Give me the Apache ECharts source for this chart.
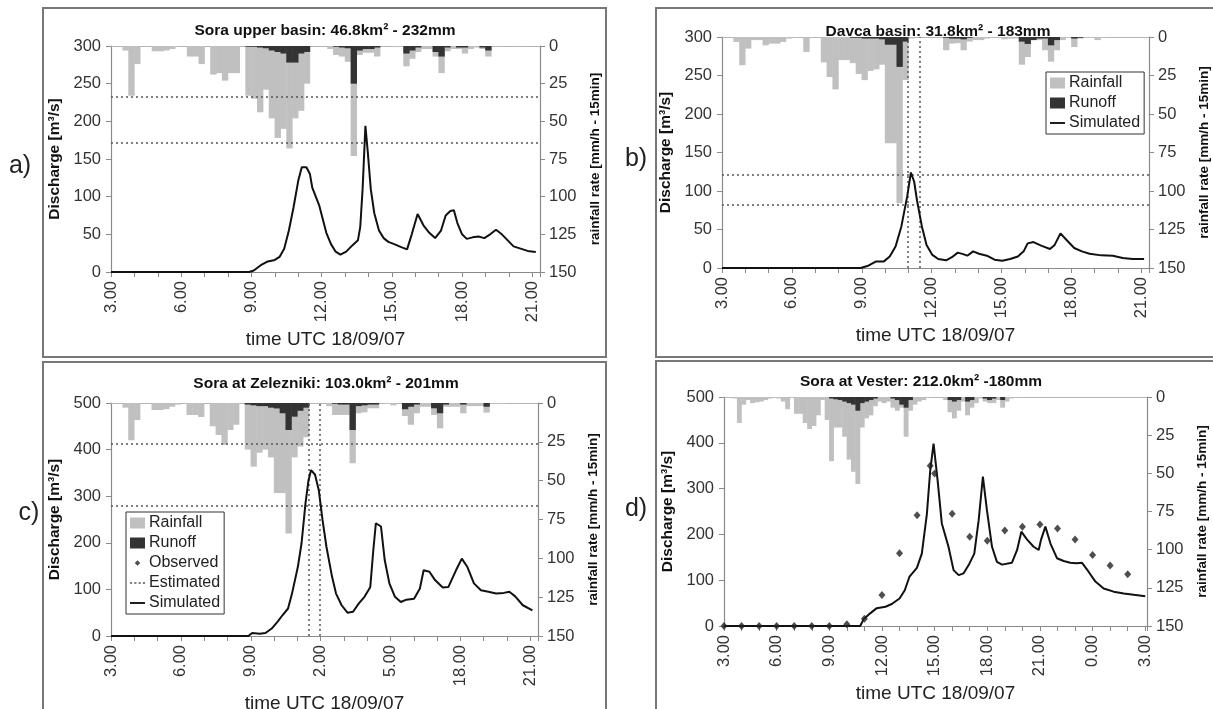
<!DOCTYPE html>
<html>
<head>
<meta charset="utf-8">
<title>Sora basins - discharge and rainfall 18/09/07</title>
<script src="https://cdn.jsdelivr.net/npm/echarts@6/dist/echarts.min.js"></script>
<style>
  html, body { margin: 0; padding: 0; background: #fff; }
  #chart { width: 1213px; height: 709px; }
</style>
</head>
<body>
<div id="chart"></div>
<script>
// rainfall / runoff are 15-min blocks starting at 3.00 (mm/h)
const T0 = 3;
const STEP = 0.25;

// x tick labels (every 3 h)
const tickHoursABC = [3, 6, 9, 12, 15, 18, 21];
const tickLabelsA = ['3.00', '6.00', '9.00', '12.00', '15.00', '18.00', '21.00'];
const tickLabelsB = ['3.00', '6.00', '9.00', '12.00', '15.00', '18.00', '21.00'];
const tickLabelsC = ['3.00', '6.00', '9.00', '2.00', '5.00', '18.00', '21.00'];
const tickHoursD = [3, 6, 9, 12, 15, 18, 21, 24, 27];
const tickLabelsD = ['3.00', '6.00', '9.00', '12.00', '15.00', '18.00', '21.00', '0.00', '3.00'];

// a) Sora upper basin
const rainA = [
  0, 0, 3, 33, 12, 0, 0, 3.5, 3.5, 3, 2, 0.5,
  0, 7, 7, 12, 0, 19, 18, 23, 18, 18, 0, 33,
  35, 44, 29, 48, 61, 55, 68, 48, 43, 25, 0, 0,
  0, 2, 6, 7, 10.5, 73, 6, 4.5, 4.5, 7, 0, 0,
  0.7, 0, 13.5, 8.5, 4, 2, 2, 7, 18, 3.5, 2, 2,
  5, 2, 1, 2, 7, 0.5, 0.3, 0, 0, 0.3, 0, 0
];
const runoffA = [
  0, 0, 0, 0, 0, 0, 0, 0, 0, 0, 0, 0,
  0, 0, 0, 0, 0, 0, 0, 0, 0, 0, 0, 0.5,
  0.5, 1, 1.5, 3, 4, 5, 11, 11, 5, 4, 0, 0,
  0, 0, 0.5, 1, 1.5, 25, 3, 2, 2, 1, 0, 0,
  0, 0, 5, 3, 1, 0, 0, 4, 7, 1, 0, 1,
  1, 0, 0, 1, 3, 0, 0, 0, 0, 0, 0, 0
];
const simTimeA = [3, 8.9, 9.1, 9.4, 9.7, 10.0, 10.2, 10.4, 10.6, 10.8, 11.0, 11.15, 11.35, 11.5, 11.6, 11.75,
  11.9, 12.05, 12.2, 12.4, 12.6, 12.8, 13.05, 13.3, 13.55, 13.65, 13.75, 13.87, 13.97, 14.1, 14.25, 14.45,
  14.65, 14.85, 15.1, 15.4, 15.65, 15.85, 16.1, 16.35, 16.6, 16.85, 17.1, 17.3, 17.5, 17.65, 17.8, 18.0,
  18.2, 18.45, 18.7, 18.95, 19.2, 19.45, 19.7, 19.95, 20.2, 20.5, 20.8, 21.15];
const simA = [0, 0, 2, 9, 14, 16, 20, 31, 55, 86, 121, 139, 139, 130, 112, 100,
  88, 70, 52, 37, 27, 23, 27, 35, 42, 60, 110, 194, 160, 110, 78, 55,
  45, 40, 37, 33, 30, 50, 77, 62, 52, 45, 55, 75, 81, 82, 65, 50,
  44, 46, 47, 45, 50, 56, 50, 42, 34, 31, 28, 26.5];
const estQA = [233, 171];
const estTA = [];

// b) Davca basin
const rainB = [
  0, 0, 3.2, 18.3, 7.5, 2, 2, 5.4, 4.3, 4.3, 3.2, 1,
  0.5, 0, 9.7, 0, 0, 16.5, 26, 34, 15, 15, 17, 24,
  28, 22, 21, 18, 69, 69, 108, 28, 1, 0, 0, 0,
  0, 0, 8.6, 4.3, 4, 8.6, 3, 2, 2, 1, 0.5, 0.5,
  1.5, 1, 1, 18, 13, 2, 2, 8.6, 16, 8.6, 2, 0.5,
  6.5, 1, 0.5, 0.5, 2, 0.5, 0, 0, 0, 0, 0, 0
];
const runoffB = [
  0, 0, 0, 0, 0, 0, 0, 0, 0, 0, 0, 0,
  0, 0, 0, 0, 0, 0, 0, 0, 0, 0, 0.5, 0.5,
  1, 1, 1, 1.5, 5, 5, 19.4, 3, 0, 0, 0, 0,
  0, 0, 0.5, 1, 1, 1.5, 0.5, 0, 0, 0, 0, 0,
  0, 0, 0, 3, 4.5, 2, 1, 1, 5.4, 2, 0, 0,
  1, 0.5, 0, 0, 0, 0, 0, 0, 0, 0, 0, 0
];
const simTimeB = [3, 8.95, 9.28, 9.62, 9.95, 10.2, 10.45, 10.7, 10.95, 11.11, 11.25, 11.37, 11.58, 11.78, 12.03,
  12.28, 12.62, 12.87, 13.12, 13.35, 13.53, 13.78, 14.03, 14.37, 14.7, 15.03, 15.37, 15.7, 15.95, 16.12,
  16.37, 16.7, 17.08, 17.28, 17.53, 17.78, 18.12, 18.45, 18.78, 19.28, 19.78, 20.2, 20.62, 21.12];
const simB = [0, 0, 3, 8.6, 8.6, 15, 28, 54, 93, 124, 112, 88, 54, 30, 17,
  11.7, 10, 14, 20, 18, 16, 21.6, 18.5, 16, 10.8, 9.5, 11.7, 15, 21.6, 32,
  33.7, 29, 24.6, 30, 45, 36.7, 26, 21.6, 18.5, 16.4, 16, 13, 11.7, 11.7];
const estQB = [121, 82];
const estTB = [10.97, 11.47];

// c) Sora at Zelezniki
const rainC = [
  0, 0, 3, 24, 11, 0, 0, 4.5, 4.5, 4, 2.4, 1,
  0, 7.7, 7.7, 9, 0, 15, 20.6, 27, 17.4, 14, 0, 30,
  41, 32, 30, 35, 58, 58, 84, 35, 28, 22, 0, 0,
  0, 2, 7.7, 7.7, 7.7, 38.8, 6.6, 6, 3.4, 3.4, 0, 0.5,
  1.5, 0, 8.4, 14, 6.6, 2.4, 2.4, 7.7, 16.3, 2.4, 2.4, 2.4,
  6.6, 2, 2, 2, 6.2, 0.7, 0.5, 0.5, 0, 0.3, 0, 0
];
const runoffC = [
  0, 0, 0, 0, 0, 0, 0, 0, 0, 0, 0, 0,
  0, 0, 0, 0, 0, 0, 0, 0, 0, 0, 0, 1,
  1.5, 2, 2, 3, 3.5, 6.6, 17.4, 8.8, 5, 3, 0, 0,
  0, 0, 0.5, 1, 1, 17.4, 2, 1.5, 1, 1, 0, 0,
  0, 0, 4, 2.4, 1, 0, 0, 3.4, 6.6, 1, 0, 0,
  1, 0, 0, 0, 2.4, 0, 0, 0, 0, 0, 0, 0
];
const simTimeC = [3, 8.9, 9.06, 9.38, 9.63, 9.9, 10.17, 10.36, 10.6, 10.77, 11.02, 11.18, 11.35, 11.48, 11.59,
  11.76, 11.92, 12.08, 12.25, 12.49, 12.66, 12.9, 13.15, 13.39, 13.64, 13.88, 14.05, 14.13, 14.26, 14.37,
  14.59, 14.75, 14.95, 15.19, 15.44, 15.68, 16.01, 16.26, 16.42, 16.67, 16.91, 17.24, 17.48, 17.81, 18.06,
  18.3, 18.58, 18.88, 19.2, 19.53, 19.86, 20.1, 20.35, 20.68, 21.09];
const simC = [0, 0, 6.5, 5, 6.5, 16, 32, 44.5, 59, 91, 148, 199, 285, 335, 356,
  346, 313, 249, 191, 127, 91, 66, 50, 52, 70, 84, 98, 105, 184, 242,
  235, 163, 113, 84, 73, 78, 80, 102, 141, 138, 120, 104, 105, 141, 166,
  148, 113, 98, 95, 91, 92.5, 95, 85, 66, 55];
const estQC = [412, 280];
const estTC = [11.5, 11.95];

// d) Sora at Vester
const rainD = [
  0, 0, 1, 17, 5, 2, 4, 3.5, 3, 2, 1, 0.5,
  1, 3, 8, 0.5, 11, 11, 17, 21, 19, 12, 2, 15,
  42, 20, 20, 26, 41, 49, 57, 20, 14, 12, 6, 3,
  4, 3, 7, 9, 7, 26, 9, 5, 3, 2, 0.5, 0,
  0, 0, 2, 10, 14, 9, 3, 12, 7, 4, 1, 3,
  4, 4, 2, 7, 3, 1, 0.5, 0, 0, 0, 0, 0,
  0, 0, 0, 0, 0, 0, 0, 0, 0, 0, 0, 0,
  0, 0, 0, 0, 0, 0, 0, 0, 0, 0, 0, 0
];
const runoffD = [
  0, 0, 0, 0, 0, 0, 0, 0, 0, 0, 0, 0,
  0, 0, 0, 0, 0, 0, 0, 0, 0, 0, 0, 0,
  1, 1.5, 2, 3, 4, 5, 9, 4, 3, 2, 1, 0,
  0, 0, 1, 2, 5, 7, 2, 0, 0, 0, 0, 0,
  0, 0, 0, 2, 3, 2, 0, 3, 2, 0, 0, 1,
  2, 1, 0, 2, 0, 0, 0, 0, 0, 0, 0, 0,
  0, 0, 0, 0, 0, 0, 0, 0, 0, 0, 0, 0,
  0, 0, 0, 0, 0, 0, 0, 0, 0, 0, 0, 0
];
const simTimeD = [3, 10.76, 10.95, 11.33, 11.7, 12.2, 12.56, 13.0, 13.3, 13.57, 13.99, 14.27, 14.56, 14.75, 14.94,
  15.17, 15.41, 15.79, 16.08, 16.37, 16.65, 16.94, 17.26, 17.51, 17.75, 17.98, 18.27, 18.55, 18.84, 19.4,
  19.7, 19.94, 20.26, 20.64, 20.93, 21.06, 21.31, 21.6, 21.97, 22.35, 22.73, 23.1, 23.4, 23.78, 24.16,
  24.63, 25.2, 25.78, 26.35, 27.0];
const simD = [0, 0, 14.5, 27.6, 39, 42, 48, 60, 78, 108, 127, 158, 245, 340, 398,
  318, 224, 173, 122, 111, 115, 133, 158, 231, 326, 253, 173, 140, 134, 138,
  166, 206, 189, 173, 166, 188, 217, 180, 148, 142, 138, 137, 138, 118, 97,
  82, 75, 71, 68, 65];
const obsTimeD = [3, 4, 5, 6, 7, 8, 9, 10, 11, 12, 13, 14, 14.75, 15, 16, 17, 18, 19, 20, 21, 22, 23, 24, 25, 26];
const obsD = [0, 0, 0, 0, 0, 0, 0, 3.6, 16, 67.6, 159, 242, 350, 333, 245, 195, 186, 208.6, 216.6, 221.7, 213, 189, 155, 132, 113];
const estQD = [];
const estTD = [];

const FONT = '"Liberation Sans", Arial, sans-serif';
const RAIN_COLOR = '#c0c0c0';
const RUNOFF_COLOR = '#333333';
const LINE_COLOR = '#111111';
const EST_COLOR = '#555555';
const AXIS_COLOR = '#8a8a8a';

// legend icons for the line-like entries (no symbol in the middle)
const ICON_SOLID = 'path://M0,0h16v2h-16z';
const ICON_DOTTED = 'path://M0,0h2v1.6h-2zM4,0h2v1.6h-2zM8,0h2v1.6h-2zM12,0h2v1.6h-2z';
const ICON_DIAMOND = 'path://M0,0M14,12M7,3L10,6L7,9L4,6Z';

const panels = [
  { grid: { left: 111, top: 46, width: 429, height: 226 }, xMax: 21.33, qMax: 300, qStep: 50,
    rain: rainA, runoff: runoffA, simT: simTimeA, sim: simA, estQ: estQA, estT: estTA,
    ticks: tickHoursABC, labels: tickLabelsA },
  { grid: { left: 722, top: 37, width: 427, height: 231 }, xMax: 21.33, qMax: 300, qStep: 50,
    rain: rainB, runoff: runoffB, simT: simTimeB, sim: simB, estQ: estQB, estT: estTB,
    ticks: tickHoursABC, labels: tickLabelsB },
  { grid: { left: 111, top: 403, width: 427, height: 233 }, xMax: 21.33, qMax: 500, qStep: 100,
    rain: rainC, runoff: runoffC, simT: simTimeC, sim: simC, estQ: estQC, estT: estTC,
    ticks: tickHoursABC, labels: tickLabelsC, legendObserved: true },
  { grid: { left: 724, top: 397, width: 423, height: 229 }, xMax: 27.1, qMax: 500, qStep: 100,
    rain: rainD, runoff: runoffD, simT: simTimeD, sim: simD, estQ: estQD, estT: estTD,
    ticks: tickHoursD, labels: tickLabelsD, obsT: obsTimeD, obs: obsD }
];

const grids = [];
const xAxes = [];
const yAxes = [];
const series = [];

panels.forEach((cfg, p) => {
  const xb = 2 * p;
  const yl = 2 * p;
  const yr = 2 * p + 1;
  const barW = cfg.grid.width / (cfg.xMax - T0) * STEP + 0.5;

  grids.push(Object.assign({ outerBoundsMode: 'none', containLabel: false }, cfg.grid));

  // bottom time axis
  xAxes.push({
    gridIndex: p, type: 'value', min: T0, max: cfg.xMax, interval: 1,
    axisLine: { show: true, onZero: false, lineStyle: { color: AXIS_COLOR, width: 1.2 } },
    axisTick: { show: true, length: 5, lineStyle: { color: AXIS_COLOR } },
    splitLine: { show: false },
    axisLabel: {
      rotate: 90, fontSize: 16.5, color: '#333', margin: 9, hideOverlap: false,
      showMinLabel: true, showMaxLabel: true,
      formatter: (v) => {
        const k = cfg.ticks.findIndex((h) => Math.abs(h - v) < 1e-6);
        return k < 0 ? '' : cfg.labels[k];
      }
    },
    name: 'time UTC 18/09/07', nameLocation: 'middle', nameGap: 58, nameMoveOverlap: false,
    nameTextStyle: { fontSize: 19, color: '#222' }
  });
  // top border of the plot (where the rain hangs from)
  xAxes.push({
    gridIndex: p, type: 'value', position: 'top', min: T0, max: cfg.xMax,
    axisLine: { show: true, onZero: false, lineStyle: { color: '#b5b5b5' } },
    axisTick: { show: false }, axisLabel: { show: false }, splitLine: { show: false }
  });

  yAxes.push({
    gridIndex: p, type: 'value', position: 'left', min: 0, max: cfg.qMax, interval: cfg.qStep,
    axisLine: { show: true, onZero: false, lineStyle: { color: AXIS_COLOR, width: 1.2 } },
    axisTick: { show: true, length: 5, lineStyle: { color: AXIS_COLOR } },
    splitLine: { show: false },
    axisLabel: { fontSize: 16.5, color: '#333', margin: 10 },
    name: 'Discharge [m³/s]', nameLocation: 'middle', nameGap: 48, nameMoveOverlap: false,
    nameTextStyle: { fontSize: 15.5, fontWeight: 'bold', color: '#111' }
  });
  yAxes.push({
    gridIndex: p, type: 'value', position: 'right', inverse: true, min: 0, max: 150, interval: 25,
    axisLine: { show: true, onZero: false, lineStyle: { color: AXIS_COLOR, width: 1.2 } },
    axisTick: { show: true, length: 5, lineStyle: { color: AXIS_COLOR } },
    splitLine: { show: false },
    axisLabel: { fontSize: 16.5, color: '#333', margin: 9 },
    name: 'rainfall rate [mm/h - 15min]', nameLocation: 'middle', nameGap: 48, nameMoveOverlap: false,
    nameTextStyle: { fontSize: 13.5, fontWeight: 'bold', color: '#111' }
  });

  series.push({
    name: 'Rainfall', type: 'bar', xAxisIndex: xb, yAxisIndex: yr,
    data: cfg.rain.map((v, i) => [T0 + STEP * (i + 0.5), v]),
    barWidth: barW, barGap: '-100%', itemStyle: { color: RAIN_COLOR }, z: 2
  });
  series.push({
    name: 'Runoff', type: 'bar', xAxisIndex: xb, yAxisIndex: yr,
    data: cfg.runoff.map((v, i) => [T0 + STEP * (i + 0.5), v]),
    barWidth: barW, barGap: '-100%', itemStyle: { color: RUNOFF_COLOR }, z: 3
  });

  const marks = cfg.estQ.map((q) => ({ yAxis: q })).concat(cfg.estT.map((t) => ({ xAxis: t })));
  series.push({
    name: 'Estimated', type: 'line', xAxisIndex: xb, yAxisIndex: yl, data: [],
    symbol: 'none', itemStyle: { color: EST_COLOR },
    lineStyle: { color: EST_COLOR, width: 1.5, type: [2, 3] }, z: 4,
    markLine: {
      silent: true, symbol: ['none', 'none'], label: { show: false },
      lineStyle: { color: EST_COLOR, width: 1.5, type: [2, 3] },
      emphasis: { disabled: true },
      data: marks
    }
  });

  if (cfg.obs || cfg.legendObserved) {
    series.push({
      name: 'Observed', type: 'scatter', xAxisIndex: xb, yAxisIndex: yl,
      data: cfg.obs ? cfg.obsT.map((t, i) => [t, cfg.obs[i]]) : [],
      symbol: 'diamond', symbolSize: [7, 8], itemStyle: { color: '#222' }, z: 6
    });
  }

  series.push({
    name: 'Simulated', type: 'line', xAxisIndex: xb, yAxisIndex: yl,
    data: cfg.simT.map((t, i) => [t, cfg.sim[i]]),
    symbol: 'none', itemStyle: { color: LINE_COLOR },
    lineStyle: { color: LINE_COLOR, width: 2 }, z: 5
  });
});

const legendBase = {
  orient: 'vertical', selectedMode: false, backgroundColor: '#fff',
  borderColor: '#333', borderWidth: 1, padding: [3, 4, 3, 4], itemGap: 4,
  itemWidth: 15, itemHeight: 11,
  textStyle: { fontSize: 16, color: '#222', padding: [0, 0, 0, -1] }
};

const frames = [
  { x: 43, y: 8, width: 563, height: 349 },
  { x: 656, y: 8, width: 600, height: 349 },
  { x: 43, y: 362, width: 563, height: 400 },
  { x: 656, y: 361, width: 600, height: 400 }
];
const panelTitles = [
  { text: 'Sora upper basin: 46.8km² - 232mm', x: 325, y: 31 },
  { text: 'Davca basin: 31.8km² - 183mm', x: 938, y: 32 },
  { text: 'Sora at Zelezniki: 103.0km² - 201mm', x: 326, y: 384 },
  { text: 'Sora at Vester: 212.0km² -180mm', x: 921, y: 382 }
];
const panelLetters = [
  { text: 'a)', x: 20, y: 166 },
  { text: 'b)', x: 636, y: 159 },
  { text: 'c)', x: 29, y: 513 },
  { text: 'd)', x: 636, y: 509 }
];

const graphic = [];
frames.forEach((f) => graphic.push({
  type: 'rect', silent: true, z: 0, shape: f,
  style: { fill: 'none', stroke: '#777', lineWidth: 2 }
}));
panelTitles.forEach((t) => graphic.push({
  type: 'text', silent: true, z: 10, x: t.x, y: t.y,
  style: { text: t.text, fill: '#111', font: 'bold 15.5px ' + FONT, textAlign: 'center', textVerticalAlign: 'middle' }
}));
panelLetters.forEach((t) => graphic.push({
  type: 'text', silent: true, z: 10, x: t.x, y: t.y,
  style: { text: t.text, fill: '#222', font: '25px ' + FONT, textAlign: 'center', textVerticalAlign: 'middle' }
}));

const chart = echarts.init(document.getElementById('chart'), null, { renderer: 'canvas' });

chart.setOption({
  animation: false,
  backgroundColor: '#fff',
  textStyle: { fontFamily: FONT },
  grid: grids,
  xAxis: xAxes,
  yAxis: yAxes,
  series: series,
  legend: [
    Object.assign({}, legendBase, {
      left: 1046, top: 72,
      data: [
        { name: 'Rainfall', icon: 'rect' },
        { name: 'Runoff', icon: 'rect' },
        { name: 'Simulated', icon: ICON_SOLID }
      ]
    }),
    Object.assign({}, legendBase, {
      left: 126, top: 512,
      data: [
        { name: 'Rainfall', icon: 'rect' },
        { name: 'Runoff', icon: 'rect' },
        { name: 'Observed', icon: ICON_DIAMOND },
        { name: 'Estimated', icon: ICON_DOTTED },
        { name: 'Simulated', icon: ICON_SOLID }
      ]
    })
  ],
  graphic: graphic
});

window.addEventListener('resize', () => chart.resize());
</script>
</body>
</html>
